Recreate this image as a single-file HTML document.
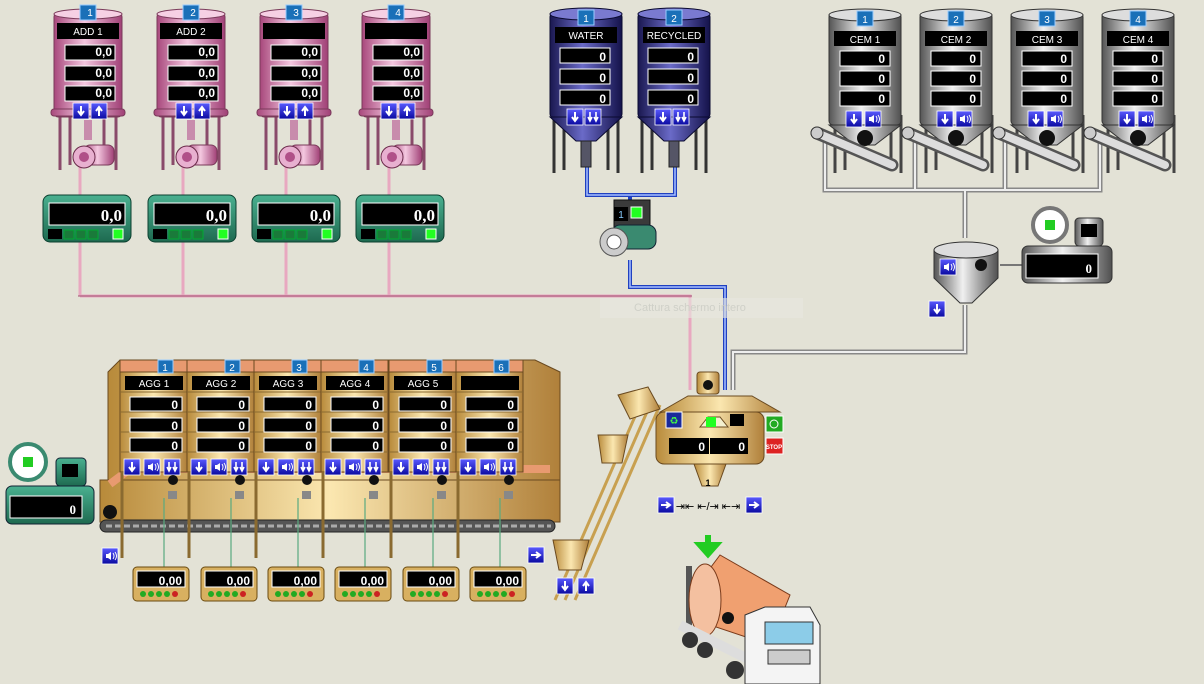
<!DOCTYPE html>
<html><head><meta charset="utf-8"><style>
html,body{margin:0;padding:0;background:#e3e2d6;}
svg{display:block;font-family:"Liberation Sans",sans-serif;}
.lb{fill:#fff;font-size:10px;text-anchor:middle;}
.v{fill:#fff;font-size:12px;font-weight:bold;text-anchor:end;}
.vs{fill:#fff;font-size:13px;font-weight:bold;text-anchor:end;font-family:"Liberation Serif",serif;}
</style></head><body>
<svg width="1204" height="684" viewBox="0 0 1204 684" xmlns="http://www.w3.org/2000/svg">
<defs>
<linearGradient id="pk" x1="0" x2="1"><stop offset="0" stop-color="#a8487c"/><stop offset=".45" stop-color="#f4c8e0"/><stop offset="1" stop-color="#a04076"/></linearGradient>
<linearGradient id="bl" x1="0" x2="1"><stop offset="0" stop-color="#1a1850"/><stop offset=".45" stop-color="#6a6ac8"/><stop offset="1" stop-color="#14124a"/></linearGradient>
<linearGradient id="gr" x1="0" x2="1"><stop offset="0" stop-color="#555"/><stop offset=".45" stop-color="#f0f0f0"/><stop offset="1" stop-color="#505050"/></linearGradient>
<linearGradient id="gd" x1="0" x2="1"><stop offset="0" stop-color="#b88a3a"/><stop offset=".5" stop-color="#fbe7b0"/><stop offset="1" stop-color="#b0803a"/></linearGradient>
<linearGradient id="gn" x1="0" y1="0" x2="0" y2="1"><stop offset="0" stop-color="#4ab090"/><stop offset="1" stop-color="#1e6a50"/></linearGradient>
<linearGradient id="bt" x1="0" y1="0" x2="0" y2="1"><stop offset="0" stop-color="#5a5aff"/><stop offset="1" stop-color="#0a0aa0"/></linearGradient>
<g id="bd"><rect width="16" height="16" fill="url(#bt)" stroke="#fff" stroke-width=".8"/><path d="M8 3v8M5 8l3 4 3-4" stroke="#fff" stroke-width="2" fill="none"/></g>
<g id="bu"><rect width="16" height="16" fill="url(#bt)" stroke="#fff" stroke-width=".8"/><path d="M8 13V5M5 8l3-4 3 4" stroke="#fff" stroke-width="2" fill="none"/></g>
<g id="bs"><rect width="16" height="16" fill="url(#bt)" stroke="#fff" stroke-width=".8"/><path d="M4 6h2l3-2v8l-3-2H4z" fill="#fff"/><path d="M11 5q2 3 0 6M13 4q3 4 0 8" stroke="#fff" fill="none"/></g>
<g id="bdd"><rect width="16" height="16" fill="url(#bt)" stroke="#fff" stroke-width=".8"/><path d="M5 3v8M11 3v8M3 8l2 4 2-4M9 8l2 4 2-4" stroke="#fff" stroke-width="1.6" fill="none"/></g>
<g id="br"><rect width="16" height="16" fill="url(#bt)" stroke="#fff" stroke-width=".8"/><path d="M3 8h8M8 5l4 3-4 3" stroke="#fff" stroke-width="2" fill="none"/></g>
<g id="pt">
<path d="M6 110v55M16 110v50M50 110v50M62 110v55" stroke="#8a4a6a" stroke-width="3"/>
<rect x="0" y="8" width="68" height="104" rx="4" fill="url(#pk)" stroke="#7a3a5a"/>
<ellipse cx="34" cy="9" rx="34" ry="5" fill="#f6d0e4" stroke="#7a3a5a"/>
<rect x="-3" y="104" width="74" height="7" rx="3" fill="url(#pk)" stroke="#7a3a5a"/>
<rect x="3" y="18" width="62" height="16" fill="#000"/>
<rect x="11" y="40" width="50" height="15" fill="#000" stroke="#fff"/>
<rect x="11" y="61" width="50" height="15" fill="#000" stroke="#fff"/>
<rect x="11" y="81" width="50" height="15" fill="#000" stroke="#fff"/>
<use href="#bd" x="19" y="98"/><use href="#bu" x="37" y="98"/>
<rect x="30" y="115" width="8" height="20" fill="#c88cac"/>
<rect x="30" y="140" width="30" height="20" rx="6" fill="url(#pk)" stroke="#7a3a5a"/>
<circle cx="30" cy="152" r="11" fill="#e8b0d0" stroke="#6a2a4a"/>
<circle cx="30" cy="152" r="5" fill="#b05088"/>
<rect x="26" y="0" width="16" height="15" fill="#1a70b8" stroke="#9cf"/>
</g>
<g id="gs"><rect x="0" y="0" width="88" height="47" rx="7" fill="url(#gn)" stroke="#0c4030"/>
<rect x="6" y="8" width="76" height="22" fill="#000" stroke="#fff"/>
<rect x="5" y="34" width="14" height="10" fill="#000"/>
<rect x="21" y="35" width="10" height="9" fill="#1a7a3a" stroke="#0a3"/><rect x="33" y="35" width="10" height="9" fill="#1a7a3a" stroke="#0a3"/><rect x="45" y="35" width="10" height="9" fill="#1a7a3a" stroke="#0a3"/>
<rect x="70" y="34" width="10" height="10" fill="#2f2" stroke="#fff"/></g>
<g id="wt">
<path d="M4 110v58M14 110v55M58 110v55M68 110v58" stroke="#333" stroke-width="3"/>
<rect x="0" y="8" width="72" height="105" rx="4" fill="url(#bl)" stroke="#0a0a30"/>
<path d="M0 112l26 24h20l26-24z" fill="url(#bl)" stroke="#0a0a30"/>
<ellipse cx="36" cy="9" rx="36" ry="6" fill="#7a7ad0" stroke="#0a0a30"/>
<rect x="5" y="22" width="62" height="16" fill="#000"/>
<rect x="10" y="43" width="50" height="15" fill="#000" stroke="#fff"/>
<rect x="10" y="64" width="50" height="15" fill="#000" stroke="#fff"/>
<rect x="10" y="85" width="50" height="15" fill="#000" stroke="#fff"/>
<use href="#bd" x="17" y="104"/><use href="#bdd" x="35" y="104"/>
<rect x="31" y="136" width="10" height="26" fill="#556" stroke="#222"/>
<rect x="28" y="5" width="16" height="15" fill="#1a70b8" stroke="#9cf"/>
</g>
<g id="cs">
<path d="M6 110v58M16 110v55M62 110v55M72 110v58" stroke="#444" stroke-width="3"/>
<rect x="0" y="8" width="72" height="112" rx="4" fill="url(#gr)" stroke="#333"/>
<path d="M0 120l26 20h20l26-20z" fill="url(#gr)" stroke="#333"/>
<ellipse cx="36" cy="10" rx="36" ry="6" fill="#ddd" stroke="#333"/>
<rect x="5" y="26" width="62" height="15" fill="#000"/>
<rect x="11" y="46" width="50" height="15" fill="#000" stroke="#fff"/>
<rect x="11" y="66" width="50" height="15" fill="#000" stroke="#fff"/>
<rect x="11" y="86" width="50" height="15" fill="#000" stroke="#fff"/>
<use href="#bd" x="17" y="106"/><use href="#bs" x="36" y="106"/>
<circle cx="36" cy="133" r="8" fill="#111"/>
<path d="M-12 128l75 32" stroke="#555" stroke-width="13" stroke-linecap="round"/>
<path d="M-12 128l75 32" stroke="#ddd" stroke-width="8" stroke-linecap="round"/>
<circle cx="-12" cy="128" r="6" fill="#ccc" stroke="#333"/>
<rect x="28" y="6" width="16" height="15" fill="#1a70b8" stroke="#9cf"/>
</g>
<g id="ab">
<rect x="0" y="0" width="67" height="12" fill="#e89a70" stroke="#6a4a20"/>
<rect x="0" y="12" width="67" height="100" fill="url(#gd)" stroke="#6a4a20"/>
<path d="M0 32h67M0 52h67M0 72h67M0 92h67" stroke="#8a6a30"/>
<rect x="5" y="16" width="58" height="14" fill="#000"/>
<rect x="10" y="37" width="52" height="14" fill="#000" stroke="#fff"/>
<rect x="10" y="58" width="52" height="14" fill="#000" stroke="#fff"/>
<rect x="10" y="78" width="52" height="14" fill="#000" stroke="#fff"/>
<use href="#bd" x="4" y="99"/><use href="#bs" x="24" y="99"/><use href="#bdd" x="44" y="99"/>
<path d="M2 112v86" stroke="#8a6a30" stroke-width="3"/>
<circle cx="53" cy="120" r="5" fill="#111"/>
<rect x="48" y="131" width="9" height="8" fill="#888"/>
<rect x="38" y="0" width="15" height="13" fill="#1a70b8" stroke="#9cf"/>
</g>
<g id="as"><rect width="56" height="34" rx="4" fill="#d8b060" stroke="#6a4a10"/>
<rect x="4" y="4" width="48" height="16" fill="#000" stroke="#fff"/>
<circle cx="10" cy="27" r="3" fill="#2a2"/><circle cx="18" cy="27" r="3" fill="#2a2"/><circle cx="26" cy="27" r="3" fill="#2a2"/><circle cx="34" cy="27" r="3" fill="#2a2"/><circle cx="42" cy="27" r="3" fill="#c22"/></g>
</defs>

<g stroke="#e8a8c0" stroke-width="3" fill="none">
<path d="M80 165V296M183 165V296M286 165V296M389 165V296M80 296H690V390"/>
</g>
<g stroke="#a05070" stroke-width="1" fill="none"><path d="M78 296H692"/></g>
<g stroke="#2040c0" stroke-width="4" fill="none"><path d="M587 165V195H675V165M630 195V200M630 260V287H725V390"/></g>
<g stroke="#a8c0ff" stroke-width="1.5" fill="none"><path d="M587 165V195H675V165M630 260V287H725V390"/></g>
<g stroke="#888" stroke-width="5" fill="none"><path d="M825 140V190H1100V140M915 140V190M1005 140V190M965 190V238M965 305V352H733V390"/></g>
<g stroke="#eee" stroke-width="2" fill="none"><path d="M825 140V190H1100V140M915 140V190M1005 140V190M965 190V238M965 305V352H733V390"/></g>
<path d="M1000 265H1022" stroke="#777" stroke-width="2"/>

<use href="#pt" x="54" y="5"/><use href="#pt" x="157" y="5"/><use href="#pt" x="260" y="5"/><use href="#pt" x="362" y="5"/>
<g class="lb">
<text x="90" y="16">1</text><text x="193" y="16">2</text><text x="296" y="16">3</text><text x="398" y="16">4</text>
<text x="88" y="35">ADD 1</text><text x="191" y="35">ADD 2</text>
</g>
<g class="v">
<text x="112" y="56">0,0</text><text x="112" y="77">0,0</text><text x="112" y="97">0,0</text>
<text x="215" y="56">0,0</text><text x="215" y="77">0,0</text><text x="215" y="97">0,0</text>
<text x="318" y="56">0,0</text><text x="318" y="77">0,0</text><text x="318" y="97">0,0</text>
<text x="420" y="56">0,0</text><text x="420" y="77">0,0</text><text x="420" y="97">0,0</text>
</g>
<use href="#gs" x="43" y="195"/><use href="#gs" x="148" y="195"/><use href="#gs" x="252" y="195"/><use href="#gs" x="356" y="195"/>
<g class="vs"><text x="122" y="221" font-size="17">0,0</text><text x="227" y="221" font-size="17">0,0</text><text x="331" y="221" font-size="17">0,0</text><text x="435" y="221" font-size="17">0,0</text></g>

<use href="#wt" x="550" y="5"/><use href="#wt" x="638" y="5"/>
<g class="lb"><text x="586" y="22">1</text><text x="674" y="22">2</text><text x="586" y="39">WATER</text><text x="674" y="39">RECYCLED</text></g>
<g class="v"><text x="606" y="61">0</text><text x="606" y="82">0</text><text x="606" y="103">0</text><text x="694" y="61">0</text><text x="694" y="82">0</text><text x="694" y="103">0</text></g>
<rect x="614" y="200" width="36" height="28" fill="#3a3a3a" stroke="#111"/>
<rect x="614" y="207" width="14" height="14" fill="#000"/><text x="621" y="218" class="lb" style="fill:#8cf">1</text>
<rect x="631" y="207" width="11" height="11" fill="#2f2" stroke="#fff"/>
<rect x="612" y="225" width="44" height="24" rx="8" fill="#3a8a70" stroke="#123"/>
<circle cx="614" cy="242" r="14" fill="#ccc" stroke="#555"/><circle cx="614" cy="242" r="7" fill="#fff" stroke="#555"/>
<rect x="600" y="298" width="203" height="20" fill="#e8e8e0" opacity=".6"/>
<text x="690" y="311" fill="#cfd0c8" font-size="11" text-anchor="middle">Cattura schermo intero</text>

<use href="#cs" x="829" y="5"/><use href="#cs" x="920" y="5"/><use href="#cs" x="1011" y="5"/><use href="#cs" x="1102" y="5"/>
<g class="lb"><text x="865" y="23">1</text><text x="956" y="23">2</text><text x="1047" y="23">3</text><text x="1138" y="23">4</text>
<text x="865" y="43">CEM 1</text><text x="956" y="43">CEM 2</text><text x="1047" y="43">CEM 3</text><text x="1138" y="43">CEM 4</text></g>
<g class="v"><text x="885" y="63">0</text><text x="885" y="83">0</text><text x="885" y="103">0</text>
<text x="976" y="63">0</text><text x="976" y="83">0</text><text x="976" y="103">0</text>
<text x="1067" y="63">0</text><text x="1067" y="83">0</text><text x="1067" y="103">0</text>
<text x="1158" y="63">0</text><text x="1158" y="83">0</text><text x="1158" y="103">0</text></g>
<path d="M934 250h64v28l-26 25h-12l-26-25z" fill="url(#gr)" stroke="#333"/>
<ellipse cx="966" cy="250" rx="32" ry="8" fill="#ddd" stroke="#333"/>
<use href="#bs" x="940" y="259"/><circle cx="981" cy="265" r="6" fill="#111"/>
<use href="#bd" x="929" y="301"/>
<circle cx="1050" cy="225" r="17" fill="#fff" stroke="#777" stroke-width="4"/><rect x="1045" y="220" width="10" height="10" fill="#2c2"/>
<rect x="1075" y="218" width="28" height="28" rx="4" fill="url(#gr)" stroke="#333"/><rect x="1081" y="224" width="16" height="13" fill="#000"/>
<rect x="1022" y="246" width="90" height="37" rx="6" fill="url(#gr)" stroke="#333"/>
<rect x="1026" y="254" width="72" height="24" fill="#000" stroke="#fff"/>
<text x="1092" y="273" class="vs" font-size="16">0</text>

<path d="M108 372l12-12h415l25 12v110l-25 30H108z" fill="url(#gd)" stroke="#6a4a20"/>
<rect x="100" y="480" width="460" height="42" fill="url(#gd)" stroke="#6a4a20"/>
<path d="M110 484l20-15h420" stroke="#e89a70" stroke-width="8" fill="none"/>
<rect x="100" y="520" width="455" height="12" rx="6" fill="#555" stroke="#222"/>
<path d="M106 526h445" stroke="#aaa" stroke-dasharray="6 3" stroke-width="3"/>
<circle cx="110" cy="512" r="7" fill="#111"/>
<use href="#ab" x="120" y="360"/><use href="#ab" x="187" y="360"/><use href="#ab" x="254" y="360"/><use href="#ab" x="321" y="360"/><use href="#ab" x="389" y="360"/><use href="#ab" x="456" y="360"/>
<g class="lb"><text x="165" y="371">1</text><text x="232" y="371">2</text><text x="299" y="371">3</text><text x="366" y="371">4</text><text x="434" y="371">5</text><text x="501" y="371">6</text>
<text x="154" y="387">AGG 1</text><text x="221" y="387">AGG 2</text><text x="288" y="387">AGG 3</text><text x="355" y="387">AGG 4</text><text x="423" y="387">AGG 5</text></g>
<g class="v"><text x="178" y="409">0</text><text x="178" y="430">0</text><text x="178" y="450">0</text>
<text x="245" y="409">0</text><text x="245" y="430">0</text><text x="245" y="450">0</text>
<text x="312" y="409">0</text><text x="312" y="430">0</text><text x="312" y="450">0</text>
<text x="379" y="409">0</text><text x="379" y="430">0</text><text x="379" y="450">0</text>
<text x="447" y="409">0</text><text x="447" y="430">0</text><text x="447" y="450">0</text>
<text x="514" y="409">0</text><text x="514" y="430">0</text><text x="514" y="450">0</text></g>
<g stroke="#5aaa80" stroke-width="1.2"><path d="M164 498v70M231 498v70M298 498v70M365 498v70M433 498v70M500 498v70"/></g>
<use href="#as" x="133" y="567"/><use href="#as" x="201" y="567"/><use href="#as" x="268" y="567"/><use href="#as" x="335" y="567"/><use href="#as" x="403" y="567"/><use href="#as" x="470" y="567"/>
<g class="v"><text x="182" y="585">0,00</text><text x="250" y="585">0,00</text><text x="317" y="585">0,00</text><text x="384" y="585">0,00</text><text x="452" y="585">0,00</text><text x="519" y="585">0,00</text></g>
<use href="#bs" x="102" y="548"/>
<circle cx="28" cy="462" r="18" fill="#fff" stroke="#3a8a70" stroke-width="4"/><rect x="23" y="457" width="10" height="10" fill="#2c2"/>
<rect x="56" y="458" width="30" height="28" rx="4" fill="url(#gn)" stroke="#123"/><rect x="62" y="464" width="16" height="13" fill="#000"/>
<rect x="6" y="486" width="88" height="38" rx="6" fill="url(#gn)" stroke="#123"/>
<rect x="10" y="496" width="72" height="22" fill="#000" stroke="#fff"/><text x="76" y="514" class="vs" font-size="16">0</text>

<path d="M555 600L640 405M565 600L650 405M575 600L660 405" stroke="#c8a050" stroke-width="3"/>
<path d="M553 540h36l-8 30h-22z" fill="url(#gd)" stroke="#6a4a20"/>
<path d="M598 435h30l-6 28h-20z" fill="url(#gd)" stroke="#6a4a20"/>
<path d="M618 395l30 -8 12 22-30 10z" fill="url(#gd)" stroke="#6a4a20"/>
<use href="#br" x="528" y="547"/><use href="#bd" x="557" y="578"/><use href="#bu" x="578" y="578"/>

<rect x="697" y="372" width="22" height="22" rx="3" fill="url(#gd)" stroke="#6a4a20"/><circle cx="708" cy="385" r="5" fill="#111"/>
<path d="M660 412l28-16h64l28 16z" fill="url(#gd)" stroke="#6a4a20"/>
<rect x="656" y="412" width="108" height="52" rx="8" fill="url(#gd)" stroke="#6a4a20"/>
<path d="M694 464h32l-8 22h-16z" fill="url(#gd)" stroke="#6a4a20"/>
<rect x="666" y="412" width="16" height="16" fill="#1a2a9a" stroke="#fff"/><text x="674" y="424" class="lb" style="fill:#4f4">♻</text>
<path d="M700 427l8-10h12l8 10z" fill="#f4f0d0" stroke="#6a4a20"/><rect x="706" y="417" width="10" height="10" fill="#2f2"/>
<rect x="730" y="414" width="14" height="12" fill="#000"/>
<rect x="669" y="438" width="40" height="16" fill="#000"/><rect x="710" y="438" width="38" height="16" fill="#000"/>
<text x="705" y="451" class="v">0</text><text x="745" y="451" class="v">0</text>
<rect x="766" y="416" width="17" height="16" fill="#2a2" stroke="#fff"/><circle cx="774" cy="424" r="4" fill="none" stroke="#fff"/>
<rect x="766" y="438" width="17" height="16" fill="#d22" stroke="#fff"/><text x="774" y="449" fill="#fff" font-size="6" text-anchor="middle" font-weight="bold">STOP</text>
<text x="708" y="486" font-size="9" font-weight="bold" text-anchor="middle">1</text>
<use href="#br" x="658" y="497"/><use href="#br" x="746" y="497"/>
<text x="708" y="510" font-size="11" text-anchor="middle">⇥⇤ ⇤/⇥ ⇤⇥</text>

<path d="M708 535v12M700 545l8 9 8-9z" stroke="#2c2" stroke-width="6" fill="#2c2"/>
<rect x="686" y="566" width="6" height="70" fill="#555"/>
<path d="M690 595l30-40 70 40-20 50-60-20z" fill="#f0a070" stroke="#7a3a1a"/>
<ellipse cx="705" cy="600" rx="16" ry="36" fill="#f4c0a0" stroke="#7a3a1a"/>
<circle cx="728" cy="618" r="6" fill="#111"/>
<path d="M680 625l70 35" stroke="#ddd" stroke-width="10"/>
<circle cx="690" cy="640" r="8" fill="#333"/><circle cx="705" cy="650" r="8" fill="#333"/><circle cx="735" cy="670" r="9" fill="#333"/>
<path d="M745 615l20-8h45l10 18v59h-75z" fill="#f4f4f4" stroke="#333"/>
<rect x="765" y="622" width="48" height="22" fill="#8ccce8" stroke="#333"/>
<rect x="768" y="650" width="42" height="14" fill="#ccc" stroke="#333"/>
</svg>
</body></html>
